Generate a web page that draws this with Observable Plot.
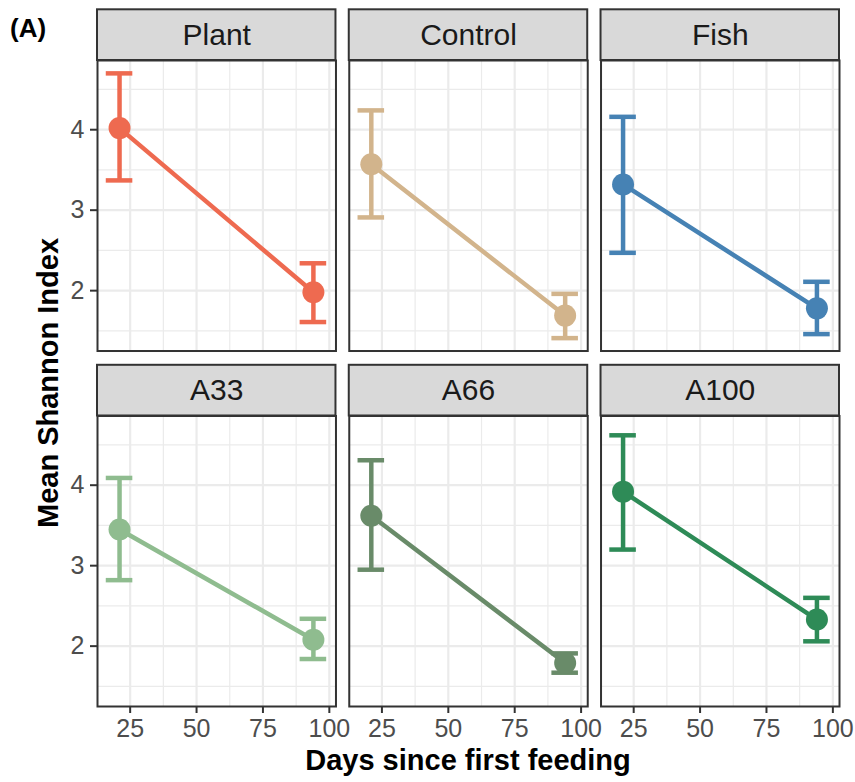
<!DOCTYPE html>
<html>
<head>
<meta charset="utf-8">
<script src="https://cdn.jsdelivr.net/npm/d3@7"></script>
<script src="https://cdn.jsdelivr.net/npm/@observablehq/plot@0.6"></script>
<style>
  html, body { margin: 0; padding: 0; background: #ffffff; }
  #chart { position: relative; width: 855px; height: 782px; font-family: "Liberation Sans", Arial, sans-serif; }
  #chart svg { position: absolute; left: 0; top: 0; }
  .tag { position: absolute; left: 10px; top: 15px; font-size: 26px; font-weight: bold; line-height: 1; color: #000; }
  .ytitle { position: absolute; left: 48px; top: 383px; font-size: 29px; font-weight: bold; line-height: 1; white-space: nowrap;
            transform: translate(-50%, -50%) rotate(-90deg); color: #000; }
  .xtitle { position: absolute; left: 468px; top: 746px; font-size: 29px; font-weight: bold; line-height: 1; white-space: nowrap;
            transform: translateX(-50%); color: #000; }
</style>
</head>
<body>
<div id="chart">
  <div class="tag">(A)</div>
  <div class="ytitle">Mean Shannon Index</div>
  <div class="xtitle">Days since first feeding</div>
</div>
<script>
// Treatments in facet order (3 columns x 2 rows) and their colours
const treatments = ["Plant", "Control", "Fish", "A33", "A66", "A100"];
const colors = ["#EE6A50", "#D2B48C", "#4682B4", "#8FBC8F", "#698B69", "#2E8B57"];

// Sampling days
const days = [21, 94];

// Mean Shannon index with error-bar limits, first sampling day
const meanDay21  = [4.02, 3.57, 3.32, 3.45, 3.62, 3.92];
const lowerDay21 = [3.37, 2.91, 2.47, 2.82, 2.95, 3.20];
const upperDay21 = [4.70, 4.24, 4.16, 4.09, 4.31, 4.62];

// Mean Shannon index with error-bar limits, second sampling day
const meanDay94  = [1.98, 1.69, 1.78, 2.08, 1.79, 2.33];
const lowerDay94 = [1.61, 1.41, 1.46, 1.84, 1.67, 2.06];
const upperDay94 = [2.34, 1.96, 2.11, 2.34, 1.91, 2.60];

// Axis ticks
const xTicks = [25, 50, 75, 100];
const xMinor = [37.5, 62.5, 87.5];
const yTicks = [2, 3, 4];
const yMinor = [1.5, 2.5, 3.5, 4.5];

// Panel layout helpers
const yBottom = 1.25, yTop = 4.86;   // panel y range
const stripTop = 5.49;               // top of the facet strip, in y units
const capHalf = 5;                   // half width of error-bar caps, in days

const panels = treatments.map((name, i) => ({name, col: i % 3, row: Math.floor(i / 3)}));

const rows = [];
treatments.forEach((name, i) => {
  const col = i % 3, row = Math.floor(i / 3);
  rows.push({treatment: name, col, row, day: days[0], mean: meanDay21[i], lower: lowerDay21[i], upper: upperDay21[i]});
  rows.push({treatment: name, col, row, day: days[1], mean: meanDay94[i], lower: lowerDay94[i], upper: upperDay94[i]});
});

// Tick labels: x along the bottom row, y along the left column
const xLabels = [0, 1, 2].flatMap(col => xTicks.map(v => ({col, row: 1, v})));
const yLabels = [0, 1].flatMap(row => yTicks.map(v => ({col: 0, row, v})));

const facet = {fx: "col", fy: "row"};
const lw = 4.5;

const chart = Plot.plot({
  width: 855,
  height: 782,
  marginTop: 60,
  marginBottom: 76,
  marginLeft: 97,
  marginRight: 16,
  facetMarginTop: 0,
  facetMarginBottom: 0,
  facetMarginLeft: 0,
  facetMarginRight: 0,
  style: {fontFamily: "'Liberation Sans', Arial, sans-serif", background: "transparent"},
  fx: {domain: [0, 1, 2], axis: null, paddingInner: 0.0528, paddingOuter: 0, round: false},
  fy: {domain: [0, 1], axis: null, paddingInner: 0.1828, paddingOuter: 0, round: false},
  x: {domain: [12.7, 102.5]},
  y: {domain: [yBottom, yTop]},
  color: {domain: treatments, range: colors},
  marks: [
    // background grid
    Plot.gridX(xMinor, {stroke: "#EBEBEB", strokeOpacity: 1, strokeWidth: 1.2}),
    Plot.gridY(yMinor, {stroke: "#EBEBEB", strokeOpacity: 1, strokeWidth: 1.2}),
    Plot.gridX(xTicks, {stroke: "#EBEBEB", strokeOpacity: 1, strokeWidth: 2.2}),
    Plot.gridY(yTicks, {stroke: "#EBEBEB", strokeOpacity: 1, strokeWidth: 2.2}),

    // mean trajectory
    Plot.line(rows, {...facet, x: "day", y: "mean", z: "treatment", stroke: "treatment", strokeWidth: lw}),

    // error bars with caps
    Plot.ruleX(rows, {...facet, x: "day", y1: "lower", y2: "upper", stroke: "treatment", strokeWidth: lw}),
    Plot.ruleY(rows, {...facet, y: "upper", x1: d => d.day - capHalf, x2: d => d.day + capHalf, stroke: "treatment", strokeWidth: lw}),
    Plot.ruleY(rows, {...facet, y: "lower", x1: d => d.day - capHalf, x2: d => d.day + capHalf, stroke: "treatment", strokeWidth: lw}),

    // means
    Plot.dot(rows, {...facet, x: "day", y: "mean", fill: "treatment", r: 11}),

    // panel border
    Plot.frame({stroke: "#333333", strokeWidth: 2}),

    // facet strips
    Plot.rect(panels, {...facet, y1: () => yTop, y2: () => stripTop, fill: "#D9D9D9", stroke: "#333333", strokeWidth: 2}),
    Plot.text(panels, {...facet, y: () => (yTop + stripTop) / 2, text: "name", fontSize: 30, fill: "#1A1A1A"}),

    // axis ticks
    Plot.axisX({ticks: xTicks, tickSize: 7, tickFormat: () => "", stroke: "#333333", strokeWidth: 2, label: null}),
    Plot.axisY({ticks: yTicks, tickSize: 7, tickFormat: () => "", stroke: "#333333", strokeWidth: 2, label: null}),

    // tick labels
    Plot.text(xLabels, {...facet, x: "v", text: d => String(d.v), frameAnchor: "bottom", lineAnchor: "top",
                        dy: 13, fontSize: 25, fill: "#4D4D4D"}),
    Plot.text(yLabels, {...facet, y: "v", text: d => String(d.v), frameAnchor: "left", textAnchor: "end",
                        dx: -13, fontSize: 25, fill: "#4D4D4D"})
  ]
});

document.getElementById("chart").prepend(chart);
</script>
</body>
</html>
